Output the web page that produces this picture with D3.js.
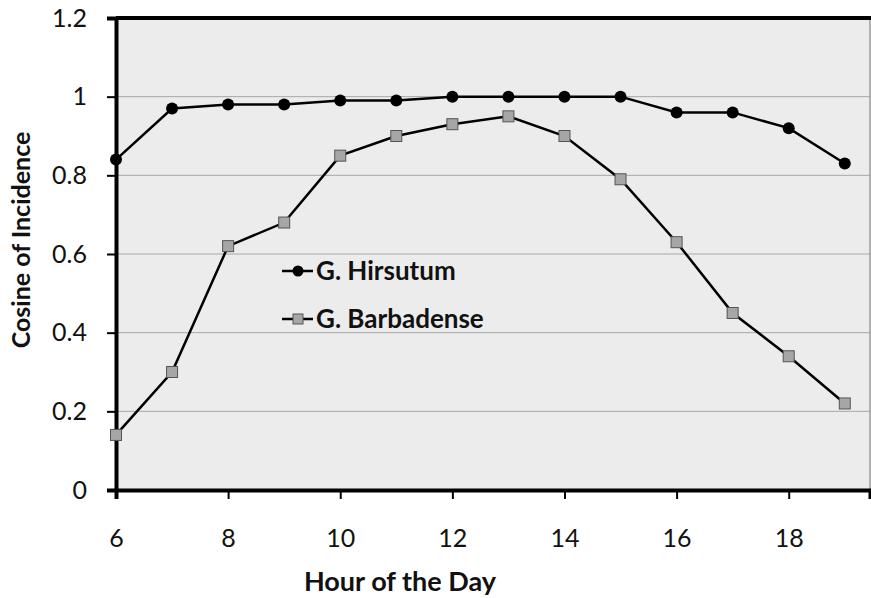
<!DOCTYPE html>
<html><head><meta charset="utf-8">
<script src="https://cdn.jsdelivr.net/npm/d3@7"></script>
<style>body{margin:0;background:#fff;}text{font-family:Lato,"Open Sans",sans-serif;}</style>
</head><body><svg id="c" width="871" height="598"></svg>
<script>
const hours = [6,7,8,9,10,11,12,13,14,15,16,17,18,19];
const hirsutum = [0.84,0.97,0.98,0.98,0.99,0.99,1.0,1.0,1.0,1.0,0.96,0.96,0.92,0.83];
const barbadense = [0.14,0.30,0.62,0.68,0.85,0.90,0.93,0.95,0.90,0.79,0.63,0.45,0.34,0.22];
const xTicks = [6,8,10,12,14,16,18];
const yTicks = [0,0.2,0.4,0.6,0.8,1,1.2];
const seriesNames = ["G. Hirsutum","G. Barbadense"];

const svg = d3.select("#c");
const L=116,R=870,T=18,B=490;
const x = d3.scaleLinear().domain([6,19.45]).range([L,R]);
const y = d3.scaleLinear().domain([0,1.2]).range([B,T]);

svg.append("rect").attr("x",L).attr("y",T).attr("width",R-L).attr("height",B-T).attr("fill","#ececec");
svg.append("g").selectAll("line").data(yTicks.slice(1,-1)).join("line")
 .attr("x1",L).attr("x2",R).attr("y1",d=>y(d)).attr("y2",d=>y(d)).attr("stroke","#a8a8a8").attr("stroke-width",1);
svg.append("line").attr("x1",R).attr("x2",R).attr("y1",T).attr("y2",B).attr("stroke","#9a9a9a").attr("stroke-width",1.5);
svg.append("line").attr("x1",L).attr("x2",R+1).attr("y1",T).attr("y2",T).attr("stroke","#000").attr("stroke-width",4);

const yAxis = svg.append("g").attr("transform",`translate(${L},0)`)
 .call(d3.axisLeft(y).tickValues(yTicks).tickFormat(d3.format("~g")).tickSize(9).tickPadding(20));
yAxis.select(".domain").attr("stroke","#000").attr("stroke-width",4);
yAxis.selectAll(".tick line").attr("stroke","#000").attr("stroke-width",2);
yAxis.selectAll("text").attr("font-size",25).attr("fill","#111");

const xAxis = svg.append("g").attr("transform",`translate(0,${B})`)
 .call(d3.axisBottom(x).tickValues(xTicks).tickSize(9).tickPadding(30));
xAxis.select(".domain").attr("stroke","#000").attr("stroke-width",4);
xAxis.selectAll(".tick line").attr("stroke","#000").attr("stroke-width",2);
xAxis.selectAll("text").attr("font-size",25).attr("fill","#111");

svg.append("text").attr("x",400).attr("y",591).attr("text-anchor","middle").attr("font-size",27).attr("font-weight","bold").attr("fill","#111").text("Hour of the Day");
svg.append("text").attr("transform","translate(30,240) rotate(-90)").attr("text-anchor","middle").attr("font-size",25).attr("font-weight","bold").attr("fill","#111").text("Cosine of Incidence");

const line = d3.line().x((d,i)=>x(hours[i])).y(d=>y(d));
svg.append("path").datum(barbadense).attr("d",line).attr("fill","none").attr("stroke","#000").attr("stroke-width",2.5);
svg.append("path").datum(hirsutum).attr("d",line).attr("fill","none").attr("stroke","#000").attr("stroke-width",2.5);

svg.append("g").selectAll("rect").data(barbadense).join("rect")
 .attr("x",(d,i)=>x(hours[i])-5.5).attr("y",d=>y(d)-5.5).attr("width",11).attr("height",11)
 .attr("fill","#a6a6a6").attr("stroke","#555").attr("stroke-width",1);
svg.append("g").selectAll("circle").data(hirsutum).join("circle")
 .attr("cx",(d,i)=>x(hours[i])).attr("cy",d=>y(d)).attr("r",6).attr("fill","#000");

const lg = svg.append("g");
const ly = [271,319];
seriesNames.forEach((n,i)=>{
  lg.append("line").attr("x1",282).attr("x2",313).attr("y1",ly[i]).attr("y2",ly[i]).attr("stroke","#000").attr("stroke-width",2.5);
  if(i===0) lg.append("circle").attr("cx",298).attr("cy",ly[i]).attr("r",5.5).attr("fill","#000");
  else lg.append("rect").attr("x",293).attr("y",ly[i]-5).attr("width",10).attr("height",10).attr("fill","#a6a6a6").attr("stroke","#555");
  lg.append("text").attr("x",316).attr("y",ly[i]+9).attr("font-size",26).attr("font-weight","bold").attr("fill","#111").text(n);
});
</script></body></html>
